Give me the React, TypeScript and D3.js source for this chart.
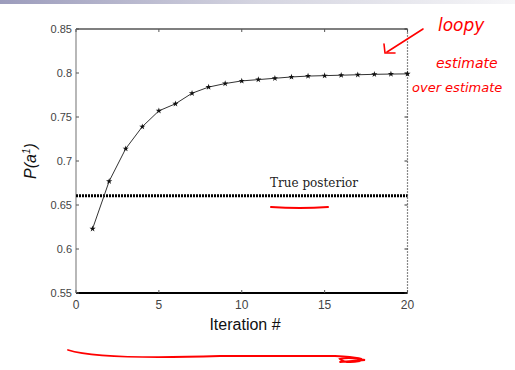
import React from "react";
import * as d3 from "d3";

const iterations = [1, 2, 3, 4, 5, 6, 7, 8, 9, 10, 11, 12, 13, 14, 15, 16, 17, 18, 19, 20];
const loopyEstimate = [0.623, 0.677, 0.714, 0.739, 0.757, 0.765, 0.777, 0.784, 0.788, 0.791, 0.7925, 0.794, 0.7955, 0.7965, 0.797, 0.7975, 0.798, 0.7985, 0.7988, 0.799];
const truePosterior = 0.6605;
const xTicks = [0, 5, 10, 15, 20];
const yTicks = [0.55, 0.6, 0.65, 0.7, 0.75, 0.8, 0.85];

export default function App() {
  const W = 515, H = 370;
  const left = 76, right = 407.5, top = 29, bottom = 293;
  const x = d3.scaleLinear().domain([0, 20]).range([left, right]);
  const y = d3.scaleLinear().domain([0.55, 0.85]).range([bottom, top]);
  const line = d3.line<number>().x((_, i) => x(iterations[i])).y((d) => y(d));
  const star = d3.symbol().type(d3.symbolStar).size(12)() as string;
  const font = "'Liberation Sans', Arial, sans-serif";
  return (
    <svg width={W} height={H} style={{ position: "absolute", left: 0, top: 0, background: "#fff" }}>
      <defs>
        <linearGradient id="hdr" x1="0" x2="1" y1="0" y2="0">
          <stop offset="0" stopColor="#9c9cbc" />
          <stop offset="0.5" stopColor="#d4d4e0" />
          <stop offset="1" stopColor="#f6f6f8" />
        </linearGradient>
      </defs>
      <rect x={0} y={0} width={W} height={4} fill="url(#hdr)" />
      <line x1={left} x2={right} y1={top} y2={top} stroke="#000" strokeWidth={1.2} />
      <line x1={left} x2={right} y1={bottom} y2={bottom} stroke="#000" strokeWidth={2} />
      <line x1={left} x2={left} y1={top} y2={bottom} stroke="#888" strokeWidth={1.2} />
      <line x1={right} x2={right} y1={top} y2={bottom} stroke="#888" strokeWidth={1.2} strokeDasharray="2,1" />
      {yTicks.map((t) => (
        <g key={"y" + t}>
          <line x1={left} x2={left + 3} y1={y(t)} y2={y(t)} stroke="#555" />
          <line x1={right} x2={right - 3} y1={y(t)} y2={y(t)} stroke="#333" />
          <text x={left - 4} y={y(t) + 4} textAnchor="end" fontFamily={font} fontSize={11} fill="#444">{t}</text>
        </g>
      ))}
      {xTicks.map((t) => (
        <g key={"x" + t}>
          <line x1={x(t)} x2={x(t)} y1={bottom} y2={bottom - 3} stroke="#555" />
          <line x1={x(t)} x2={x(t)} y1={top} y2={top + 3} stroke="#555" />
          <text x={x(t)} y={bottom + 16} textAnchor="middle" fontFamily={font} fontSize={12} fill="#444">{t}</text>
        </g>
      ))}
      <line x1={left} x2={right} y1={y(truePosterior)} y2={y(truePosterior)} stroke="#000" strokeWidth={3} strokeDasharray="2,1" />
      <text x={314} y={187} textAnchor="middle" fontFamily="'DejaVu Serif', serif" fontSize={12} fill="#222">True posterior</text>
      <path d={line(loopyEstimate) as string} fill="none" stroke="#333" strokeWidth={1} />
      {loopyEstimate.map((v, i) => (
        <path key={i} d={star} transform={`translate(${x(iterations[i])},${y(v)})`} fill="#111" />
      ))}
      <text x={245} y={330} textAnchor="middle" fontFamily={font} fontSize={16} fill="#111">Iteration #</text>
      <text transform="translate(36,161) rotate(-90)" textAnchor="middle" fontFamily={font} fontSize={16} fontStyle="italic" fill="#111">
        P(a<tspan dy={-6} fontSize={10}>1</tspan><tspan dy={6}>)</tspan>
      </text>
      <g fill="none" stroke="#f00" strokeWidth={1.6} strokeLinecap="round">
        <path d="M423,29 L387,52" />
        <path d="M384,44 L385,53 L395,53" />
        <path d="M271,207 Q300,209 328,207" strokeWidth={2} />
        <path d="M68,350 Q100,360 220,356 L335,356 Q370,358 360,361 Q345,364 340,359 Q350,357 365,360 L340,362" strokeWidth={1.8} />
      </g>
      <g fill="#f00" fontFamily="'DejaVu Sans', sans-serif" fontStyle="italic">
        <text x={438} y={31} fontSize={17}>loopy</text>
        <text x={436} y={68} fontSize={14}>estimate</text>
        <text x={412} y={92} fontSize={13}>over estimate</text>
      </g>
    </svg>
  );
}
